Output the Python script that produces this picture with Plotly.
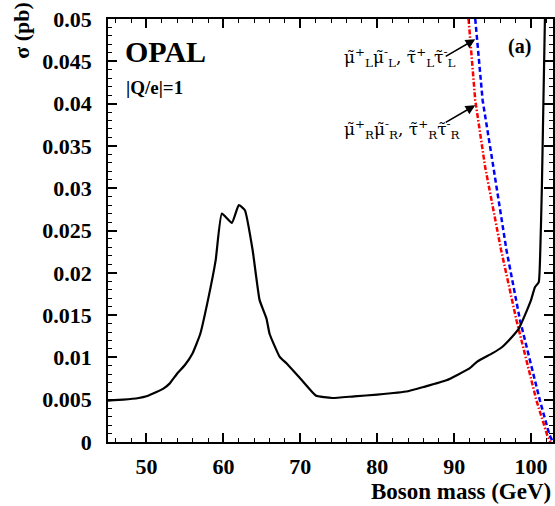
import plotly.graph_objects as go

# Black: observed limit curve
mass_obs = [45, 47, 49, 50, 51.3, 52.2, 53, 54, 55, 56, 57, 58, 59, 59.8, 61.1, 62.0, 62.8,
            63.8, 64.7, 65.6, 66.0, 67.3, 68.2, 70, 72.0, 73.1, 74.2, 77, 80, 84, 86, 89,
            92, 93, 95, 96.2, 97.6, 98.4, 99.2, 100.0, 100.5, 101.0, 101.2, 101.4, 101.6, 101.8]
sigma_obs = [0.0049, 0.0050, 0.0052, 0.0054, 0.0059, 0.0063, 0.0069, 0.0081, 0.0091, 0.0105,
             0.0128, 0.0168, 0.0215, 0.0270, 0.0259, 0.0280, 0.0274,
             0.0227, 0.0168, 0.0146, 0.0128, 0.0101, 0.0093, 0.0075, 0.0055, 0.0053, 0.0052,
             0.0054, 0.0056, 0.0060, 0.0065, 0.0073,
             0.0087, 0.0095, 0.0105, 0.0112, 0.0125, 0.0134, 0.0150, 0.0168, 0.0183, 0.0189,
             0.0227, 0.030, 0.040, 0.050]

# Blue dashed: left-handed smuon/stau pair cross-section
mass_L = [92.74, 93.7, 95.1, 96.8, 98.56, 99.85, 101.15, 102.4, 102.85]
sigma_L = [0.050, 0.0404, 0.0325, 0.0227, 0.0144, 0.0097, 0.0049, 0.0008, 0.0]

# Red dash-dot: right-handed smuon/stau pair cross-section
mass_R = [91.87, 92.74, 94.03, 96.1, 98.1, 99.4, 100.7, 102.1, 102.5]
sigma_R = [0.050, 0.0404, 0.0325, 0.0227, 0.0144, 0.0097, 0.0049, 0.0008, 0.0]

x_ticks = [50, 60, 70, 80, 90, 100]
y_ticks = [0, 0.005, 0.01, 0.015, 0.02, 0.025, 0.03, 0.035, 0.04, 0.045, 0.05]
y_tick_labels = ["0", "0.005", "0.01", "0.015", "0.02", "0.025", "0.03", "0.035", "0.04", "0.045", "0.05"]

FONT = "'Liberation Serif', 'Times New Roman', Times, serif"
LABEL_FONT = "'DejaVu Serif', serif"

fig = go.Figure()
fig.add_trace(go.Scatter(x=mass_L, y=sigma_L, mode="lines",
                         line=dict(color="#0000ff", width=2.5, dash="5px,3px")))
fig.add_trace(go.Scatter(x=mass_R, y=sigma_R, mode="lines",
                         line=dict(color="#ff0000", width=2.5, dash="5px,2px,1.5px,2px")))
fig.add_trace(go.Scatter(x=mass_obs, y=sigma_obs, mode="lines", line_shape="spline",
                         line=dict(color="black", width=2.2, smoothing=0.4)))

axis_common = dict(showline=True, linecolor="black", linewidth=1.5, mirror="ticks",
                   ticks="inside", ticklen=9, tickwidth=1.5, tickcolor="black",
                   showgrid=False, zeroline=False,
                   tickfont=dict(family=FONT, size=22, color="black", weight="bold"))

fig.update_xaxes(range=[45, 102.85], tickvals=x_ticks, ticklabelstandoff=4,
                 minor=dict(dtick=2, ticks="inside", ticklen=4, tickwidth=1.2, tickcolor="black"),
                 **axis_common)
fig.update_yaxes(range=[0, 0.05], tickvals=y_ticks, ticktext=y_tick_labels, ticklabelstandoff=10,
                 minor=dict(dtick=0.001, ticks="inside", ticklen=4, tickwidth=1.2, tickcolor="black"),
                 **axis_common)

ann = []
ann.append(dict(text="OPAL", xref="paper", yref="paper", x=0.033, y=0.922, xanchor="left",
                yanchor="middle", showarrow=False,
                font=dict(family=FONT, size=30, color="black", weight="bold")))
ann.append(dict(text="|Q/e|=1", xref="paper", yref="paper", x=0.035, y=0.837, xanchor="left",
                yanchor="middle", showarrow=False,
                font=dict(family=FONT, size=19, color="black", weight="bold")))
ann.append(dict(text="(a)", xref="paper", yref="paper", x=0.925, y=0.934, xanchor="center",
                yanchor="middle", showarrow=False,
                font=dict(family=FONT, size=20, color="black", weight="bold")))
ann.append(dict(text="Boson mass (GeV)", xref="paper", yref="paper", x=1.0, y=-0.118,
                xanchor="right", yanchor="middle", showarrow=False,
                font=dict(family=FONT, size=23, color="black", weight="bold")))
ann.append(dict(text="σ (pb)", xref="paper", yref="paper", x=-0.195, y=1.045, xanchor="center",
                yanchor="top", textangle=-90, showarrow=False,
                font=dict(family=FONT, size=22, color="black", weight="bold")))
# arrows
ann.append(dict(x=92.74, y=0.0476, xref="x", yref="y", ax=-31, ay=18, showarrow=True,
                arrowhead=2, arrowsize=1.2, arrowwidth=1.6, arrowcolor="black", text=""))
ann.append(dict(x=92.74, y=0.0398, xref="x", yref="y", ax=-31, ay=18, showarrow=True,
                arrowhead=2, arrowsize=1.2, arrowwidth=1.6, arrowcolor="black", text=""))
label_L = "μ̃<sup>+</sup><sub>L</sub>μ̃<sup>-</sup><sub>L</sub>, τ̃<sup>+</sup><sub>L</sub>τ̃<sup>-</sup><sub>L</sub>"
label_R = "μ̃<sup>+</sup><sub>R</sub>μ̃<sup>-</sup><sub>R</sub>, τ̃<sup>+</sup><sub>R</sub>τ̃<sup>-</sup><sub>R</sub>"
ann.append(dict(text=label_L, xref="x", yref="y", x=82.9, y=0.0455, xanchor="center",
                yanchor="middle", showarrow=False, font=dict(family=LABEL_FONT, size=17, color="black")))
ann.append(dict(text=label_R, xref="x", yref="y", x=83.3, y=0.0369, xanchor="center",
                yanchor="middle", showarrow=False, font=dict(family=LABEL_FONT, size=17, color="black")))

fig.update_layout(width=555, height=506, margin=dict(l=108, r=0, t=19, b=64),
                  plot_bgcolor="white", paper_bgcolor="white", showlegend=False,
                  annotations=ann)

fig.write_html("out.html")
